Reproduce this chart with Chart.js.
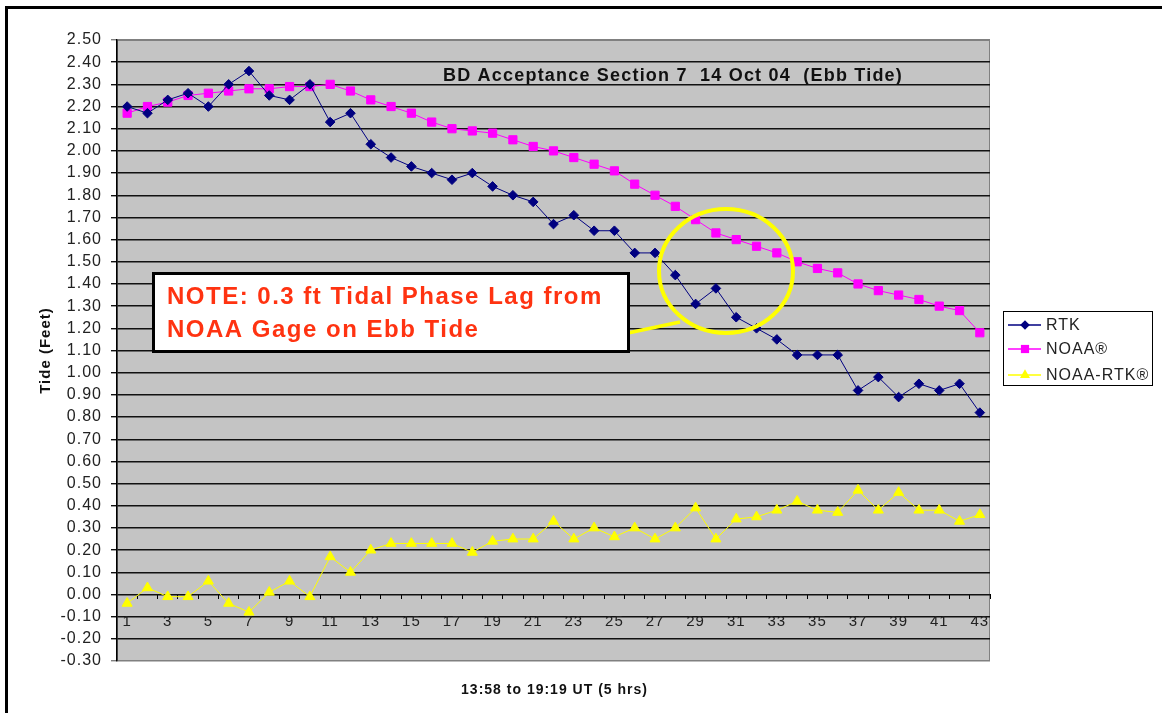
<!DOCTYPE html>
<html>
<head>
<meta charset="utf-8">
<title>BD Acceptance Section 7 - Ebb Tide</title>
<script src="https://cdn.jsdelivr.net/npm/chart.js@4.4.1/dist/chart.umd.min.js"></script>
<style>
  html, body { margin: 0; padding: 0; background: #fff; }
  #wrap { position: relative; width: 1162px; height: 713px; }
</style>
</head>
<body>
<div id="wrap"><canvas id="tideChart" width="1162" height="713"></canvas></div>
<script>
// Sample numbers along the x axis (one every ~7.5 min)
const samples = ['1', '2', '3', '4', '5', '6', '7', '8', '9', '10',
                 '11', '12', '13', '14', '15', '16', '17', '18', '19', '20',
                 '21', '22', '23', '24', '25', '26', '27', '28', '29', '30',
                 '31', '32', '33', '34', '35', '36', '37', '38', '39', '40',
                 '41', '42', '43'];

// Tide heights in feet
const rtk = [2.20, 2.17, 2.23, 2.26, 2.20, 2.30, 2.36, 2.25, 2.23, 2.30,
             2.13, 2.17, 2.03, 1.97, 1.93, 1.90, 1.87, 1.90, 1.84, 1.80,
             1.77, 1.67, 1.71, 1.64, 1.64, 1.54, 1.54, 1.44, 1.31, 1.38,
             1.25, 1.20, 1.15, 1.08, 1.08, 1.08, 0.92, 0.98, 0.89, 0.95,
             0.92, 0.95, 0.82];

const noaa = [2.17, 2.20, 2.22, 2.25, 2.26, 2.27, 2.28, 2.28, 2.29, 2.29,
              2.30, 2.27, 2.23, 2.20, 2.17, 2.13, 2.10, 2.09, 2.08, 2.05,
              2.02, 2.00, 1.97, 1.94, 1.91, 1.85, 1.80, 1.75, 1.69, 1.63,
              1.60, 1.57, 1.54, 1.50, 1.47, 1.45, 1.40, 1.37, 1.35, 1.33,
              1.30, 1.28, 1.18];

const noaaMinusRtk = [-0.04, 0.03, -0.01, -0.01, 0.06, -0.04, -0.08, 0.01, 0.06, -0.01,
                      0.17, 0.10, 0.20, 0.23, 0.23, 0.23, 0.23, 0.19, 0.24, 0.25,
                      0.25, 0.33, 0.25, 0.30, 0.26, 0.30, 0.25, 0.30, 0.39, 0.25,
                      0.34, 0.35, 0.38, 0.42, 0.38, 0.37, 0.47, 0.38, 0.46, 0.38,
                      0.38, 0.33, 0.36];

// Y axis range
const yMin = -0.30;
const yMax = 2.50;
const yStep = 0.10;

const seriesNames = ['RTK', 'NOAA®', 'NOAA-RTK®'];

document.addEventListener('DOMContentLoaded', function() {
    const FONT = 'Arial, "Liberation Sans", sans-serif';
    Chart.defaults.font.family = FONT;
    Chart.defaults.color = '#222';

    const styles = [
        { color: '#000080', marker: 'rectRot', radius: 4.8 },
        { color: '#ff00ff', marker: 'rect', radius: 5.8 },
        { color: '#ffff00', marker: 'triangle', radius: 5.8 }
    ];

    // Draw a legend marker by hand (diamond, square, triangle)
    function drawMarker(ctx, style, x, y, r, color) {
        ctx.fillStyle = color;
        ctx.beginPath();
        if (style === 'rectRot') {
            ctx.moveTo(x - r, y); ctx.lineTo(x, y - r);
            ctx.lineTo(x + r, y); ctx.lineTo(x, y + r);
        } else if (style === 'rect') {
            const s = r * Math.SQRT1_2;
            ctx.rect(x - s, y - s, 2 * s, 2 * s);
        } else {
            ctx.moveTo(x, y - r);
            ctx.lineTo(x + r * 0.866, y + r * 0.5);
            ctx.lineTo(x - r * 0.866, y + r * 0.5);
        }
        ctx.closePath();
        ctx.fill();
    }

    const decorations = {
        id: 'decorations',
        beforeDraw(chart) {
            const { ctx, chartArea: a } = chart;
            ctx.save();
            ctx.fillStyle = '#fff';
            ctx.fillRect(0, 0, chart.width, chart.height);
            // outer frame (only top and left visible)
            ctx.fillStyle = '#000';
            ctx.fillRect(5, 6, chart.width - 5, 3);
            ctx.fillRect(5, 6, 3, chart.height - 6);
            // plot area
            ctx.fillStyle = '#c4c4c4';
            ctx.fillRect(a.left, a.top, a.right - a.left, a.bottom - a.top);
            ctx.strokeStyle = '#808080';
            ctx.lineWidth = 1;
            ctx.strokeRect(a.left + 0.5, a.top + 0.5, a.right - a.left - 1, a.bottom - a.top - 1);
            ctx.restore();
            ctx.letterSpacing = '1px';
        },
        afterDraw(chart) {
            const { ctx, chartArea: a } = chart;
            ctx.save();

            // title inside plot
            ctx.fillStyle = '#111';
            ctx.font = 'bold 18px ' + FONT;
            ctx.letterSpacing = '1.2px';
            ctx.textAlign = 'left';
            ctx.textBaseline = 'alphabetic';
            ctx.fillText('BD Acceptance Section 7  14 Oct 04  (Ebb Tide)', 443, 81);

            // axis titles
            ctx.letterSpacing = '1px';
            ctx.font = 'bold 14px ' + FONT;
            ctx.textAlign = 'center';
            ctx.textBaseline = 'middle';
            ctx.fillText('13:58 to 19:19 UT (5 hrs)', (a.left + a.right) / 2 + 1, 690);
            ctx.save();
            ctx.translate(46, (a.top + a.bottom) / 2);
            ctx.rotate(-Math.PI / 2);
            ctx.font = 'bold 15px ' + FONT;
            ctx.fillText('Tide (Feet)', 0, 0);
            ctx.restore();

            // yellow circle and pointer
            ctx.strokeStyle = '#ffff00';
            ctx.lineWidth = 4;
            ctx.beginPath();
            ctx.ellipse(726, 271, 67, 62, 0, 0, Math.PI * 2);
            ctx.stroke();
            ctx.lineWidth = 3.5;
            ctx.beginPath();
            ctx.moveTo(628, 333);
            ctx.lineTo(680, 322);
            ctx.stroke();

            // note box
            ctx.fillStyle = '#fff';
            ctx.fillRect(153, 273, 476, 79);
            ctx.strokeStyle = '#000';
            ctx.lineWidth = 3;
            ctx.strokeRect(153.5, 273.5, 475, 78);
            ctx.fillStyle = '#ff3311';
            ctx.font = 'bold 24px ' + FONT;
            ctx.letterSpacing = '1.5px';
            ctx.textAlign = 'left';
            ctx.textBaseline = 'alphabetic';
            ctx.fillText('NOTE: 0.3 ft Tidal Phase Lag from', 167, 304);
            ctx.fillText('NOAA Gage on Ebb Tide', 167, 337);

            // legend
            ctx.fillStyle = '#fff';
            ctx.fillRect(1003, 311, 149, 74);
            ctx.strokeStyle = '#000';
            ctx.lineWidth = 1;
            ctx.strokeRect(1003.5, 311.5, 149, 74);
            ctx.font = '16px ' + FONT;
            ctx.letterSpacing = '1px';
            ctx.textBaseline = 'middle';
            const rows = [325, 349, 375];
            chart.data.datasets.forEach(function(ds, i) {
                const y = rows[i];
                ctx.strokeStyle = styles[i].color;
                ctx.lineWidth = 1.5;
                ctx.beginPath();
                ctx.moveTo(1008, y);
                ctx.lineTo(1041, y);
                ctx.stroke();
                drawMarker(ctx, styles[i].marker, 1025, y, styles[i].radius, styles[i].color);
                ctx.fillStyle = '#222';
                ctx.fillText(ds.label, 1046, y + 1);
            });

            ctx.restore();
        }
    };

    const datasets = [rtk, noaa, noaaMinusRtk].map(function(values, i) {
        return {
            label: seriesNames[i],
            data: values,
            borderColor: styles[i].color,
            backgroundColor: styles[i].color,
            borderWidth: 1,
            pointStyle: styles[i].marker,
            pointRadius: styles[i].radius,
            pointBorderWidth: 1,
            tension: 0
        };
    });

    const isEdge = v => Math.abs(v - yMax) < 1e-6 || Math.abs(v - yMin) < 1e-6;

    new Chart(document.getElementById('tideChart'), {
        type: 'line',
        data: { labels: samples, datasets: datasets },
        options: {
            responsive: false,
            animation: false,
            devicePixelRatio: 1,
            layout: { padding: { left: 0, top: 40, right: 172, bottom: 52 } },
            plugins: {
                legend: { display: false },
                tooltip: { enabled: false }
            },
            scales: {
                x: {
                    type: 'category',
                    position: { y: 0 },
                    offset: true,
                    grid: {
                        offset: true,
                        drawOnChartArea: false,
                        drawTicks: true,
                        tickLength: 5,
                        color: '#000'
                    },
                    border: { display: false },
                    ticks: {
                        autoSkip: false,
                        maxRotation: 0,
                        padding: 13,
                        color: '#222',
                        font: { size: 15 },
                        callback: function(value, index) {
                            return index % 2 === 0 ? this.getLabelForValue(value) : '';
                        }
                    }
                },
                y: {
                    min: yMin,
                    max: yMax,
                    afterFit: function(scale) { scale.width = 117; },
                    grid: {
                        color: ctx => isEdge(ctx.tick.value) ? '#808080' : '#111',
                        lineWidth: 1.4,
                        tickLength: 6
                    },
                    border: { color: '#000', width: 1.5 },
                    ticks: {
                        stepSize: yStep,
                        autoSkip: false,
                        padding: 9,
                        color: '#222',
                        font: { size: 16 },
                        callback: v => v.toFixed(2)
                    }
                }
            }
        },
        plugins: [decorations]
    });
});
</script>
</body>
</html>
